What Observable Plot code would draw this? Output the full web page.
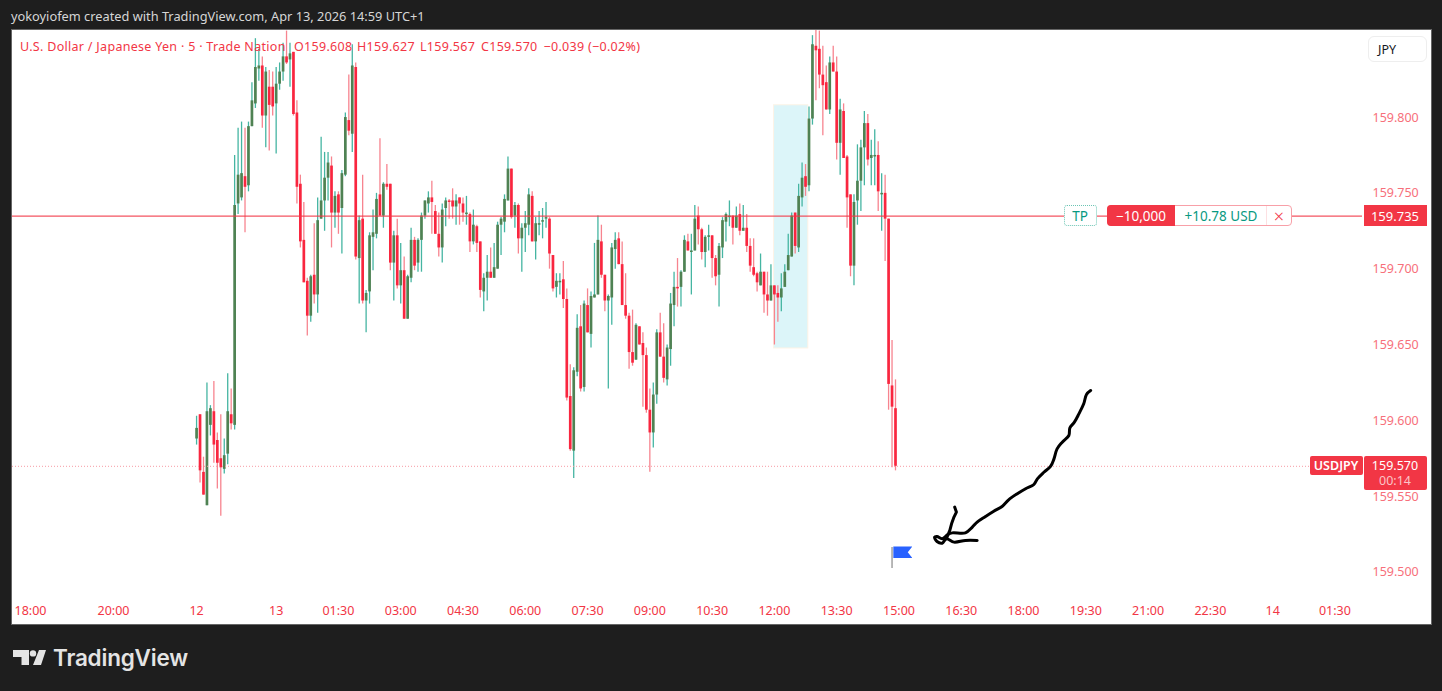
<!DOCTYPE html>
<html><head><meta charset="utf-8">
<script src="https://cdn.jsdelivr.net/npm/d3@7"></script>
<script src="https://cdn.jsdelivr.net/npm/@observablehq/plot@0.6"></script>
<style>
html,body{margin:0;padding:0;width:1442px;height:691px;background:#1e1e1e;overflow:hidden;font-family:"Noto Sans",sans-serif}
#head{position:absolute;left:11px;top:7px;color:#d6d6d6;font-size:12.8px;white-space:nowrap}
#panel{position:absolute;left:12px;top:30px;width:1419px;height:594px;background:#fff;overflow:hidden;box-shadow:0 0 0 1px #666}
#panel svg{display:block;background:transparent;overflow:hidden}
.ov{position:absolute;white-space:nowrap;box-sizing:border-box}
.leg{position:absolute;top:8px;color:#f23645;font-size:12.5px;letter-spacing:.3px;white-space:nowrap}
#logo{position:absolute;left:13px;top:644px;display:flex;align-items:center}
#logo span{font-family:Inter,sans-serif;font-weight:600;font-size:22.5px;color:#e4e4e4;margin-left:7px;letter-spacing:-.2px}
</style></head><body>
<div id="head">yokoyiofem created with TradingView.com, Apr 13, 2026 14:59 UTC+1</div>
<div id="panel"></div>
<div id="logo"><svg width="33" height="16" viewBox="0 0 33 16"><path d="M0 0h16v15H8.500V7H0z M26 0h7l-5 15h-8z" fill="#e4e4e4"/><circle cx="20" cy="3.400" r="3.200" fill="#e4e4e4"/></svg><span>TradingView</span></div>
<script>
const firstBar = 48;
const open = [
159.588,159.604,159.566,159.544,159.597,159.606,159.587,159.575,159.568,159.578,
159.604,159.597,159.743,159.747,159.761,159.755,159.794,159.809,159.832,159.834,
159.801,159.820,159.820,159.809,159.822,159.830,159.840,159.838,159.843,159.803,
159.756,159.719,159.692,159.669,159.696,159.683,159.733,159.745,159.760,159.768,
159.737,159.749,159.740,159.762,159.798,159.789,159.833,159.707,159.733,159.679,
159.685,159.721,159.723,159.749,159.735,159.756,159.756,159.704,159.722,159.689,
159.699,159.667,159.694,159.719,159.704,159.719,159.735,159.743,159.747,159.738,
159.723,159.714,159.740,159.745,159.745,159.741,159.747,159.743,159.736,159.736,
159.718,159.728,159.718,159.685,159.694,159.698,159.694,159.700,159.729,159.731,
159.745,159.766,159.735,159.742,159.720,159.727,159.729,159.748,159.718,159.729,
159.731,159.733,159.733,159.709,159.688,159.691,159.693,159.680,159.616,159.580,
159.632,159.662,159.622,159.676,159.657,159.681,159.683,159.718,159.696,159.679,
159.681,159.713,159.720,159.703,159.676,159.669,159.645,159.640,159.662,159.651,
159.643,159.607,159.592,159.617,159.658,159.642,159.627,159.647,159.676,159.688,
159.688,159.698,159.718,159.711,159.712,159.735,159.726,159.711,159.721,159.722,
159.707,159.696,159.714,159.731,159.734,159.735,159.727,159.736,159.725,159.727,
159.715,159.701,159.697,159.689,159.698,159.683,159.679,159.689,159.684,159.681,
159.688,159.699,159.708,159.737,159.714,159.747,159.761,159.755,159.799,159.847,
159.845,159.828,159.823,159.805,159.836,159.830,159.783,159.804,159.774,159.749,
159.702,159.745,159.758,159.780,159.796,159.773,159.774,159.775,159.749,159.750,
159.733,159.623,159.608];
const close = [
159.595,159.567,159.551,159.606,159.608,159.584,159.572,159.569,159.577,159.606,
159.598,159.742,159.762,159.763,159.754,159.794,159.811,159.833,159.834,159.801,
159.830,159.808,159.807,159.822,159.830,159.840,159.836,159.842,159.802,159.754,
159.718,159.691,159.669,159.695,159.683,159.732,159.745,159.760,159.770,159.737,
159.748,159.737,159.763,159.800,159.791,159.834,159.708,159.732,159.679,159.684,
159.722,159.724,159.746,159.735,159.756,159.754,159.704,159.722,159.689,159.699,
159.667,159.695,159.719,159.702,159.719,159.735,159.745,159.747,159.744,159.723,
159.714,159.739,159.745,159.744,159.741,159.745,159.743,159.737,159.737,159.718,
159.729,159.717,159.686,159.694,159.698,159.694,159.701,159.729,159.733,159.746,
159.766,159.734,159.742,159.720,159.727,159.730,159.749,159.718,159.730,159.730,
159.732,159.734,159.710,159.687,159.692,159.692,159.680,159.615,159.581,159.633,
159.661,159.621,159.677,159.658,159.682,159.683,159.719,159.696,159.679,159.682,
159.714,159.719,159.703,159.676,159.669,159.645,159.638,159.663,159.650,159.643,
159.607,159.592,159.617,159.658,159.642,159.628,159.648,159.677,159.688,159.687,
159.698,159.719,159.712,159.712,159.733,159.726,159.711,159.721,159.722,159.707,
159.695,159.715,159.732,159.736,159.735,159.727,159.735,159.725,159.727,159.715,
159.702,159.696,159.691,159.698,159.683,159.679,159.689,159.683,159.681,159.687,
159.698,159.709,159.735,159.715,159.748,159.760,159.754,159.799,159.848,159.844,
159.828,159.821,159.805,159.836,159.830,159.783,159.805,159.773,159.747,159.702,
159.744,159.758,159.780,159.796,159.772,159.775,159.775,159.751,159.750,159.733,
159.624,159.609,159.570];
const high = [
159.603,159.604,159.576,159.625,159.610,159.626,159.592,159.604,159.588,159.631,
159.621,159.775,159.793,159.797,159.793,159.797,159.823,159.852,159.845,159.840,
159.833,159.831,159.830,159.833,159.836,159.849,159.857,159.849,159.843,159.811,
159.762,159.744,159.694,159.696,159.730,159.747,159.787,159.777,159.777,159.774,
159.751,159.751,159.765,159.803,159.828,159.848,159.836,159.735,159.762,159.686,
159.724,159.739,159.750,159.786,159.757,159.769,159.756,159.725,159.733,159.717,
159.708,159.696,159.727,159.721,159.720,159.737,159.745,159.751,159.758,159.742,
159.737,159.743,159.747,159.746,159.753,159.749,159.747,159.747,159.748,159.737,
159.739,159.729,159.718,159.697,159.709,159.714,159.717,159.731,159.734,159.749,
159.774,159.766,159.744,159.743,159.730,159.738,159.753,159.751,159.734,159.738,
159.740,159.744,159.734,159.709,159.697,159.697,159.705,159.687,159.637,159.635,
159.670,159.676,159.679,159.687,159.685,159.717,159.735,159.729,159.696,159.683,
159.717,159.724,159.724,159.718,159.697,159.671,159.673,159.664,159.662,159.658,
159.648,159.621,159.625,159.660,159.671,159.664,159.650,159.684,159.698,159.707,
159.699,159.722,159.723,159.723,159.742,159.741,159.727,159.722,159.729,159.722,
159.709,159.717,159.734,159.737,159.745,159.735,159.741,159.743,159.742,159.736,
159.720,159.720,159.698,159.710,159.698,159.698,159.703,159.689,159.689,159.697,
159.703,159.723,159.737,159.737,159.756,159.770,159.769,159.807,159.854,159.859,
159.857,159.847,159.834,159.840,159.847,159.840,159.812,159.809,159.775,159.749,
159.749,159.782,159.785,159.804,159.802,159.785,159.792,159.784,159.763,159.762,
159.733,159.653,159.627];
const low = [
159.584,159.559,159.551,159.544,159.590,159.572,159.555,159.537,159.565,159.571,
159.594,159.594,159.736,159.745,159.724,159.751,159.794,159.806,159.824,159.793,
159.780,159.778,159.801,159.776,159.818,159.824,159.835,159.820,159.801,159.743,
159.714,159.691,159.656,159.665,159.677,159.671,159.733,159.725,159.745,159.714,
159.727,159.723,159.710,159.761,159.788,159.777,159.706,159.677,159.677,159.658,
159.677,159.699,159.720,159.735,159.727,159.752,159.699,159.679,159.687,159.677,
159.667,159.667,159.691,159.699,159.698,159.698,159.733,159.737,159.723,159.723,
159.708,159.704,159.728,159.733,159.733,159.729,159.729,159.731,159.729,159.711,
159.716,159.711,159.681,159.672,159.679,159.694,159.694,159.700,159.709,159.724,
159.745,159.733,159.727,159.710,159.698,159.711,159.722,159.718,159.706,159.722,
159.720,159.727,159.700,159.685,159.681,159.683,159.674,159.613,159.580,159.562,
159.629,159.619,159.619,159.658,159.648,159.681,159.683,159.694,159.672,159.621,
159.663,159.700,159.703,159.676,159.667,159.634,159.636,159.640,159.650,159.609,
159.605,159.566,159.582,159.611,159.642,159.625,159.623,159.636,159.662,159.675,
159.675,159.698,159.712,159.683,159.712,159.716,159.706,159.701,159.712,159.694,
159.689,159.675,159.707,159.718,159.728,159.716,159.727,159.722,159.725,159.711,
159.698,159.695,159.685,159.689,159.671,159.669,159.679,159.650,159.665,159.672,
159.688,159.699,159.708,159.710,159.711,159.741,159.748,159.751,159.795,159.811,
159.819,159.788,159.805,159.802,159.830,159.772,159.762,159.773,159.727,159.695,
159.689,159.729,159.738,159.755,159.768,159.755,159.755,159.738,159.725,159.705,
159.607,159.569,159.567];

const timeTickBars = [0,24,48,71,89,107,125,143,161,179,197,215,233,251,269,287,305,323,341,359,377];
const timeTickLabels = ["18:00","20:00","12","13","01:30","03:00","04:30","06:00","07:30","09:00","10:30","12:00","13:30","15:00","16:30","18:00","19:30","21:00","22:30","14","01:30"];
const priceTicks = [159.5,159.55,159.6,159.65,159.7,159.75,159.8];
const takeProfit = 159.735;
const lastPrice = 159.570;
const zoneBars = [214.9,224.8];
const zonePrices = [159.6477,159.8081];
const flagBar = 249;
const flagPrices = [159.5026,159.5165];

const arrowBars = [306.4,305.2,304.4,303,301.7,300.4,300.1,298.2,296.7,295.8,294.8,292.9,291,290,287.6,285.2,282.7,280.8,278.4,276,273.6,272.2,270.2,266.4,265.1,263.5,262,261.3,262,263.5,264.7,266.9,270.2,273.6];
const arrowPrices = [159.6200,159.6174,159.6112,159.6046,159.5991,159.5954,159.5903,159.5859,159.5815,159.5749,159.5699,159.5661,159.5617,159.5580,159.5552,159.5519,159.5479,159.5435,159.5404,159.5369,159.5332,159.5299,159.5261,159.5261,159.5250,159.5222,159.5237,159.5233,159.5204,159.5193,159.5222,159.5200,159.5211,159.5211];
const tailBars = [267.1,267.6,266.9,266.2,265.7,264.7];
const tailPrices = [159.5431,159.5398,159.5365,159.5321,159.5277,159.5222];

const candles = open.map((o,i)=>({bar:firstBar+i,o,c:close[i],h:high[i],l:low[i]}));
const up = d => d.c >= d.o;
const arrow = arrowBars.map((b,i)=>({b,p:arrowPrices[i]}));
const tail = tailBars.map((b,i)=>({b,p:tailPrices[i]}));
const font = '"Noto Sans",sans-serif';

const plot = Plot.plot({
  width:1419,height:593,marginTop:0,marginLeft:0,marginRight:69,marginBottom:28,
  style:{fontFamily:font,background:"transparent",overflow:"hidden"},
  x:{domain:[-5.2,384.97]},
  y:{domain:[159.4848,159.8574]},
  marks:[
    Plot.rect([0],{x1:zoneBars[0],x2:zoneBars[1],y1:zonePrices[0],y2:zonePrices[1],fill:"#dcf5f9",stroke:"#fdf3e6",strokeWidth:1}),
    Plot.ruleX(candles,{x:"bar",y1:"l",y2:"h",stroke:d=>up(d)?"#45b5a2":"#f7848f",strokeWidth:1.3}),
    Plot.ruleX(candles,{x:"bar",y1:"o",y2:"c",stroke:d=>up(d)?"#4f8253":"#f9263f",strokeWidth:2.7}),
    Plot.ruleY([takeProfit],{stroke:"#f23645",strokeWidth:1.2,strokeOpacity:.85}),
    Plot.ruleY([lastPrice],{stroke:"#f79aa3",strokeWidth:1,strokeDasharray:"1,2"}),
    Plot.line(arrow,{x:"b",y:"p",stroke:"#000",strokeWidth:3,curve:"catmull-rom"}),
    Plot.line(tail,{x:"b",y:"p",stroke:"#000",strokeWidth:3}),
    Plot.ruleX([flagBar],{y1:flagPrices[0],y2:flagPrices[1],stroke:"#9a9a9a",strokeWidth:1.4}),
    Plot.axisX({ticks:timeTickBars,tickFormat:b=>timeTickLabels[timeTickBars.indexOf(b)],tickSize:0,tickPadding:11,fontSize:12.5,fill:"#f23645",label:null,anchor:"bottom"}),
    Plot.axisY({ticks:priceTicks,tickFormat:d3.format(".3f"),tickSize:0,tickPadding:10,fontSize:12.5,fill:"#f7707b",label:null,anchor:"right"})
  ]
});
const panel = document.getElementById("panel");
panel.appendChild(plot);
const X = v => plot.scale("x").apply(v), Y = v => plot.scale("y").apply(v);
function ov(l,t,w,h,css,html){
  const e=document.createElement("div");e.className="ov";
  e.style.cssText=`left:${l}px;top:${t}px;width:${w}px;height:${h}px;display:flex;align-items:center;justify-content:center;`+css;
  e.innerHTML=html||"";panel.appendChild(e);return e;
}
function leg(l,t){const e=document.createElement("div");e.className="leg";e.style.left=l+"px";e.textContent=t;panel.appendChild(e);}
leg(8,"U.S. Dollar / Japanese Yen · 5 · Trade Nation");
leg(282,"O159.608");leg(345,"H159.627");leg(408,"L159.567");leg(469,"C159.570");leg(531.5,"−0.039 (−0.02%)");

ov(1356,6,59,26,"background:#fff;border:1px solid #eee;border-radius:6px;font-size:12.5px;color:#131722;justify-content:flex-start;padding-left:9px;","JPY");
const tp=Y(takeProfit), lp=Y(lastPrice);
ov(1051.5,tp-10.5,33,21,"background:#fff;border:1px dotted #6cc5b4;border-radius:3px;font-size:13.5px;color:#089981;","TP");
ov(1095,tp-10.5,185,21,"background:#fff;border:1px solid #f8a0a8;border-radius:4px;");
ov(1095,tp-10.5,68,21,"background:#f23645;border-radius:4px 0 0 4px;font-size:13.5px;color:#fff;","−10,000");
ov(1163,tp-10.5,92,21,"font-size:13.5px;color:#089981;","+10.78 USD");
ov(1254,tp-9.5,1,19,"background:#fde0e2;");
ov(1255,tp-10.5,24,21,"font-size:18px;font-weight:300;color:#f23645;","×");
ov(1351.5,tp-10.5,63,21,"background:#f23645;font-size:13px;color:#fff;","159.735");
ov(1297.5,lp-10,53,19,"background:#f23645;border-radius:2px;font-size:12.5px;font-weight:600;color:#fff;","USDJPY");
ov(1351.5,lp-10,63,34,"background:#f23645;border-radius:2px;font-size:12.5px;color:#fff;line-height:15px;flex-direction:column;","<div>159.570</div><div style='color:#fbc4c8'>00:14</div>");
ov(X(flagBar)+1.8,Y(flagPrices[1])-0.5,19,11.5,"background:#2962ff;clip-path:polygon(0 0,100% 0,76% 50%,100% 100%,0 100%);");
</script>
</body></html>
